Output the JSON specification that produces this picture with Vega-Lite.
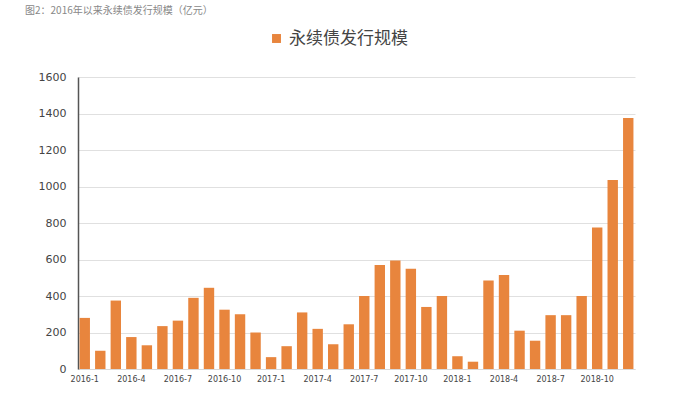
{
  "$schema": "https://vega.github.io/schema/vega-lite/v6.json",
  "autosize": {"type": "none"},
  "width": 557,
  "height": 292,
  "padding": {"left": 78, "top": 77, "right": 40, "bottom": 34},
  "background": "#ffffff",
  "title": {
    "text": "图2：2016年以来永续债发行规模（亿元）",
    "anchor": "start",
    "dx": -13,
    "offset": 14,
    "fontSize": 10,
    "fontWeight": "normal",
    "color": "#888888",
    "font": "Noto Sans CJK SC"
  },
  "data": {
    "values": [
      {"month": "2016-1", "v": 280, "s": "永续债发行规模"},
      {"month": "2016-2", "v": 100, "s": "永续债发行规模"},
      {"month": "2016-3", "v": 375, "s": "永续债发行规模"},
      {"month": "2016-4", "v": 175, "s": "永续债发行规模"},
      {"month": "2016-5", "v": 130, "s": "永续债发行规模"},
      {"month": "2016-6", "v": 235, "s": "永续债发行规模"},
      {"month": "2016-7", "v": 265, "s": "永续债发行规模"},
      {"month": "2016-8", "v": 390, "s": "永续债发行规模"},
      {"month": "2016-9", "v": 445, "s": "永续债发行规模"},
      {"month": "2016-10", "v": 325, "s": "永续债发行规模"},
      {"month": "2016-11", "v": 300, "s": "永续债发行规模"},
      {"month": "2016-12", "v": 200, "s": "永续债发行规模"},
      {"month": "2017-1", "v": 65, "s": "永续债发行规模"},
      {"month": "2017-2", "v": 125, "s": "永续债发行规模"},
      {"month": "2017-3", "v": 310, "s": "永续债发行规模"},
      {"month": "2017-4", "v": 220, "s": "永续债发行规模"},
      {"month": "2017-5", "v": 135, "s": "永续债发行规模"},
      {"month": "2017-6", "v": 245, "s": "永续债发行规模"},
      {"month": "2017-7", "v": 400, "s": "永续债发行规模"},
      {"month": "2017-8", "v": 570, "s": "永续债发行规模"},
      {"month": "2017-9", "v": 595, "s": "永续债发行规模"},
      {"month": "2017-10", "v": 550, "s": "永续债发行规模"},
      {"month": "2017-11", "v": 340, "s": "永续债发行规模"},
      {"month": "2017-12", "v": 400, "s": "永续债发行规模"},
      {"month": "2018-1", "v": 70, "s": "永续债发行规模"},
      {"month": "2018-2", "v": 40, "s": "永续债发行规模"},
      {"month": "2018-3", "v": 485, "s": "永续债发行规模"},
      {"month": "2018-4", "v": 515, "s": "永续债发行规模"},
      {"month": "2018-5", "v": 210, "s": "永续债发行规模"},
      {"month": "2018-6", "v": 155, "s": "永续债发行规模"},
      {"month": "2018-7", "v": 295, "s": "永续债发行规模"},
      {"month": "2018-8", "v": 295, "s": "永续债发行规模"},
      {"month": "2018-9", "v": 400, "s": "永续债发行规模"},
      {"month": "2018-10", "v": 775, "s": "永续债发行规模"},
      {"month": "2018-11", "v": 1035, "s": "永续债发行规模"},
      {"month": "2018-12", "v": 1375, "s": "永续债发行规模"}
    ]
  },
  "mark": {"type": "bar"},
  "encoding": {
    "x": {
      "field": "month",
      "type": "ordinal",
      "sort": null,
      "scale": {"paddingInner": 0.33, "paddingOuter": 0.1},
      "axis": {
        "title": null,
        "labelAngle": 0,
        "labelFontSize": 8,
        "labelColor": "#444444",
        "labelFont": "DejaVu Sans",
        "ticks": false,
        "domain": true,
        "domainColor": "#d9d9d9",
        "labelPadding": 6,
        "labelOverlap": false,
        "labelExpr": "indexof(['1','4','7','10'], split(datum.label, '-')[1]) >= 0 ? datum.label : ''"
      }
    },
    "y": {
      "field": "v",
      "type": "quantitative",
      "scale": {"domain": [0, 1600]},
      "axis": {
        "title": null,
        "values": [0, 200, 400, 600, 800, 1000, 1200, 1400, 1600],
        "format": "d",
        "labelFontSize": 11,
        "labelColor": "#444444",
        "labelFont": "DejaVu Sans",
        "ticks": false,
        "labelPadding": 12,
        "domain": true,
        "domainColor": "#555555",
        "domainWidth": 1.5,
        "grid": true,
        "gridColor": "#e0e0e0"
      }
    },
    "color": {
      "field": "s",
      "type": "nominal",
      "scale": {"range": ["#E8853D"]},
      "legend": {
        "title": null,
        "orient": "none",
        "legendX": 190,
        "legendY": -47,
        "symbolType": "square",
        "symbolSize": 80,
        "labelFontSize": 17,
        "labelColor": "#444444",
        "labelFont": "Noto Sans CJK SC"
      }
    }
  },
  "config": {"view": {"stroke": null}}
}
